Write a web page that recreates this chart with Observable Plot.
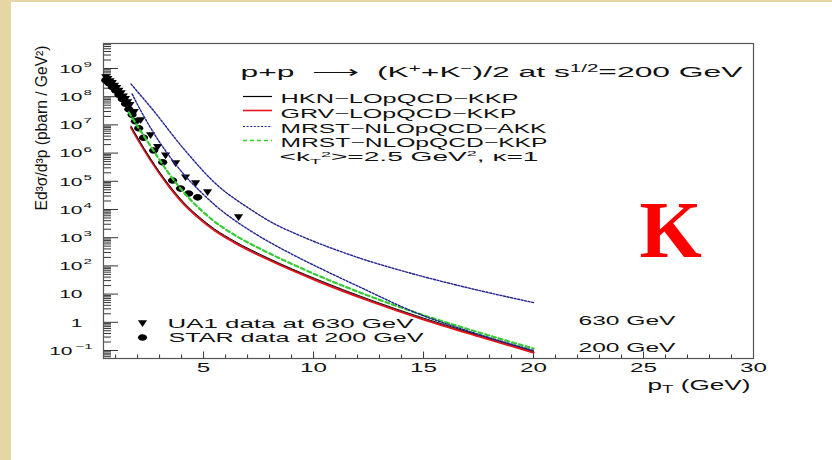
<!DOCTYPE html>
<html><head><meta charset="utf-8">
<script src="https://cdn.jsdelivr.net/npm/d3@7"></script>
<script src="https://cdn.jsdelivr.net/npm/@observablehq/plot@0.6"></script>
<style>
html,body{margin:0;padding:0;background:#e6d6a3;width:832px;height:460px;overflow:hidden}
#wrap{position:absolute;left:11px;top:2px;width:821px;height:458px;background:#fff}
svg text{white-space:pre}
</style></head><body><div id="wrap"></div>
<script>
// ---------------- data ----------------
// theory curves (pT in GeV, E d3sigma/d3p in pbarn/GeV^2)
const ptGRV   = [1.7, 2.0, 2.6, 3.4, 4.1, 4.9, 5.5, 6.4, 7.9, 10.2, 12.5, 15, 17.5, 20];
const grvVals = [8.1e6, 3.16e6, 5.5e5, 7.1e4, 1.58e4, 4.2e3, 1.82e3, 676, 174, 28.8, 5.9, 1.26, 0.32, 0.085];
const hknVals = [9.1e6, 3.55e6, 6.2e5, 7.9e4, 1.78e4, 4.7e3, 2.04e3, 759, 195, 32.4, 6.6, 1.41, 0.355, 0.095];
const ptKKP   = [1.6, 2.0, 2.6, 3.4, 4.1, 4.9, 5.6, 6.4, 7.9, 10.2, 12.5, 15, 17.5, 20];
const kkpVals = [2.8e7, 8.9e6, 1.74e6, 2.0e5, 4.0e4, 9.3e3, 3.24e3, 1.26e3, 302, 45.7, 8.7, 1.78, 0.44, 0.117];
const ptAKK200   = [1.75, 2.0, 2.6, 3.3, 4.1, 4.9, 5.6, 6.4, 7.1, 8.0, 9.0, 10.5, 12.1, 14.7, 17.3, 20];
const akk200Vals = [1.26e8, 5.2e7, 7.6e6, 1.12e6, 1.78e5, 4.0e4, 1.26e4, 4.2e3, 1.82e3, 692, 263, 69, 17.8, 2.1, 0.42, 0.10];
const ptAKK630   = [1.7, 2.6, 4.1, 5.6, 7.1, 8.2, 9.4, 12.0, 14.7, 17.3, 20];
const akk630Vals = [2.8e8, 4.2e7, 1.41e6, 7.6e4, 1.05e4, 3.16e3, 1.17e3, 200, 47.9, 14.8, 5.0];
// data points
const ptUA1   = [0.55,0.65,0.75,0.85,0.95,1.05,1.15,1.25,1.35,1.45,1.55,1.65,1.85,2.14,2.59,2.91,3.27,3.73,4.18,4.64,5.18,6.59];
const ua1Vals = [4.8e8,4.2e8,3.5e8,3.0e8,2.4e8,2.0e8,1.6e8,1.3e8,1.0e8,8.1e7,6.3e7,5.0e7,2.8e7,1.45e7,4.2e6,1.6e6,8.1e5,4.3e5,1.35e5,8.3e4,4.0e4,5.2e3];
const ptSTAR   = [0.55,0.7,0.85,1.0,1.15,1.3,1.45,1.6,1.75,1.9,2.05,2.27,2.73,3.14,3.59,3.95,4.32,4.73];
const starVals = [3.8e8,3.0e8,2.2e8,1.66e8,1.17e8,8.3e7,5.6e7,3.6e7,2.3e7,1.35e7,7.6e6,3.5e6,1.23e6,4.7e5,1.07e5,5.5e4,3.7e4,2.7e4];
// axis tick labels
const xTickValues = [5, 10, 15, 20, 25, 30];
const yTickValues = [0.1, 1, 10, 1e2, 1e3, 1e4, 1e5, 1e6, 1e7, 1e8, 1e9];
const yTickBase   = ["10", "1", "10", "10", "10", "10", "10", "10", "10", "10", "10"];
const yTickSup    = ["−1", "", "", "2", "3", "4", "5", "6", "7", "8", "9"];
// texts
const titleText = "p+p  ⟶  (K+K-)/2 at s1/2=200 GeV";
const legendNames = ["HKN−LOpQCD−KKP", "GRV−LOpQCD−KKP", "MRST−NLOpQCD−AKK", "MRST−NLOpQCD−KKP"];
const legendNote = "<kT2>=2.5 GeV2, κ=1";
const dataLegend = ["UA1 data at 630 GeV", "STAR data at 200 GeV"];
const energyLabels = ["630 GeV", "200 GeV"];
const xTitle = "pT (GeV)";
const yTitle = "Ed³σ/d³p (pbarn / GeV²)";

// ---------------- layout ----------------
const W = 821, H = 458, mL = 92, mT = 41, mR = 79, mB = 102;
const fw = W - mL - mR, fh = H - mT - mB;
const rows = (xs, ys) => xs.map((x, i) => ({pt: x, v: ys[i]}));

const triDown = {draw(ctx, size) { const r = Math.sqrt(size / Math.PI);
  ctx.moveTo(-r, -0.7 * r); ctx.lineTo(r, -0.7 * r); ctx.lineTo(0, 0.75 * r); ctx.closePath(); }};
const ellipse = {draw(ctx, size) { const r = Math.sqrt(size / Math.PI), rx = r, ry = 0.72 * r, k = 0.5523;
  ctx.moveTo(rx, 0); ctx.bezierCurveTo(rx, ry * k, rx * k, ry, 0, ry);
  ctx.bezierCurveTo(-rx * k, ry, -rx, ry * k, -rx, 0);
  ctx.bezierCurveTo(-rx, -ry * k, -rx * k, -ry, 0, -ry);
  ctx.bezierCurveTo(rx * k, -ry, rx, -ry * k, rx, 0); ctx.closePath(); }};

const xMinor = d3.range(1, 30).filter(v => v % 5 !== 0);
const yMinor = [];
for (let e = -2; e <= 9; e++) for (let m = 2; m <= 9; m++) { const v = m * Math.pow(10, e); if (v > 0.052 && v < 7.7e9) yMinor.push(v); }

const label = (txt, o) => Plot.text([txt], {x: null, y: null, text: d => d, frameAnchor: "top-left",
  textAnchor: "start", lineAnchor: "middle", fill: "#111", ...o});

const idx = d3.range(yTickValues.length);
const centerY = (mT + H - mB) / 2 + 2; // page coords of frame middle
const legLine = (pageY, o) => Plot.ruleY([0], {y: null, dy: pageY - centerY, insetLeft: 140, insetRight: 481, ...o});

const chart = Plot.plot({
  width: W, height: H, marginLeft: mL, marginRight: mR, marginTop: mT, marginBottom: mB,
  style: {fontFamily: "Liberation Sans, Arial, sans-serif", background: "white", overflow: "visible"},
  x: {domain: [0.45, 30], axis: null},
  y: {type: "log", domain: [0.052, 7.7e9], axis: null},
  marks: [
    // ticks (inside the frame)
    Plot.ruleX(xMinor, {x: d => d, insetTop: fh - 3.5, stroke: "#333"}),
    Plot.ruleX(xTickValues, {x: d => d, insetTop: fh - 6.5, stroke: "#333"}),
    Plot.ruleY(yMinor, {y: d => d, insetRight: fw - 8, stroke: "#333"}),
    Plot.ruleY(yTickValues, {y: d => d, insetRight: fw - 15, stroke: "#333"}),
    Plot.frame({stroke: "#555", strokeWidth: 1.2}),
    // data points
    Plot.dot(rows(ptSTAR, starVals), {x: "pt", y: "v", symbol: ellipse, r: 4.6, fill: "#000", stroke: null}),
    Plot.dot(rows(ptUA1, ua1Vals), {x: "pt", y: "v", symbol: triDown, r: 4.6, fill: "#000", stroke: null}),
    // theory curves
    Plot.line(rows(ptKKP, kkpVals), {x: "pt", y: "v", stroke: "#33cc33", strokeWidth: 2.2, strokeDasharray: "4 3", curve: "monotone-x"}),
    Plot.line(rows(ptGRV, grvVals), {x: "pt", y: "v", stroke: "#e3141e", strokeWidth: 2.2, curve: "monotone-x"}),
    Plot.line(rows(ptGRV, hknVals), {x: "pt", y: "v", stroke: "#111", strokeWidth: 1, curve: "monotone-x"}),
    Plot.line(rows(ptAKK200, akk200Vals), {x: "pt", y: "v", stroke: "#22228c", strokeWidth: 1.4, strokeDasharray: "2 1.6", curve: "monotone-x"}),
    Plot.line(rows(ptAKK630, akk630Vals), {x: "pt", y: "v", stroke: "#22228c", strokeWidth: 1.4, strokeDasharray: "2 1.6", curve: "monotone-x"}),
    // axis tick labels
    Plot.text(xTickValues, {x: d => d, text: d => String(d), frameAnchor: "bottom", lineAnchor: "middle", dy: 9, fontSize: 13, fill: "#111", ariaDescription: "xtick"}),
    Plot.text(idx.filter(i => yTickSup[i] !== "−1"), {y: i => yTickValues[i], text: i => yTickBase[i], frameAnchor: "left", lineAnchor: "middle", dx: -21, dy: 1, textAnchor: "end", fontSize: 10.5, fill: "#111", ariaDescription: "ytick"}),
    Plot.text(idx.filter(i => yTickSup[i] === "−1"), {y: i => yTickValues[i], text: i => yTickBase[i], frameAnchor: "left", lineAnchor: "middle", dx: -31, dy: 1, textAnchor: "end", fontSize: 10.5, fill: "#111", ariaDescription: "ytick"}),
    Plot.text(idx.filter(i => yTickSup[i] && yTickSup[i] !== "−1"), {y: i => yTickValues[i], text: i => yTickSup[i], frameAnchor: "left", lineAnchor: "middle", dx: -20, dy: -4, textAnchor: "start", fontSize: 7.5, fill: "#111", ariaDescription: "ysup"}),
    Plot.text(idx.filter(i => yTickSup[i] === "−1"), {y: i => yTickValues[i], text: i => yTickSup[i], frameAnchor: "left", lineAnchor: "middle", dx: -28, dy: -4, textAnchor: "start", fontSize: 7.5, fill: "#111", ariaDescription: "ysup"}),
    // axis titles
    label(xTitle, {dx: 544, dy: 342, fontSize: 14, ariaDescription: "xlabel"}),
    label(yTitle, {dx: -61.5, dy: 84.5, fontSize: 16, rotate: -90, textAnchor: "middle", ariaDescription: "ylabel"}),
    // title and legend
    label(titleText, {dx: 137, dy: 29, fontSize: 15.5, ariaDescription: "title"}),
    legLine(96, {stroke: "#000", strokeWidth: 1.2}),
    legLine(110, {stroke: "#e3141e", strokeWidth: 1.6}),
    legLine(126, {stroke: "#22228c", strokeWidth: 1.2, strokeDasharray: "2 1.6"}),
    legLine(140, {stroke: "#33cc33", strokeWidth: 1.6, strokeDasharray: "4 3"}),
    label(legendNames[0], {dx: 177, dy: 55.5, fontSize: 12.5, ariaDescription: "leg1"}),
    label(legendNames[1], {dx: 177, dy: 70, fontSize: 12.5, ariaDescription: "leg2"}),
    label(legendNames[2], {dx: 177, dy: 85, fontSize: 12.5, ariaDescription: "leg3"}),
    label(legendNames[3], {dx: 177, dy: 99, fontSize: 12.5, ariaDescription: "leg4"}),
    label(legendNote, {dx: 176, dy: 113, fontSize: 12.5, ariaDescription: "leg5"}),
    // data legend
    Plot.dot([0], {x: null, y: null, frameAnchor: "top-left", dx: 39, dy: 280, symbol: triDown, r: 4.6, fill: "#000", stroke: null}),
    Plot.dot([0], {x: null, y: null, frameAnchor: "top-left", dx: 39, dy: 294, symbol: ellipse, r: 4.6, fill: "#000", stroke: null}),
    label(dataLegend[0], {dx: 64, dy: 280, fontSize: 13.5, ariaDescription: "ua1"}),
    label(dataLegend[1], {dx: 65, dy: 294, fontSize: 13.5, ariaDescription: "star"}),
    label(energyLabels[0], {dx: 475, dy: 277, fontSize: 13.5, ariaDescription: "e630"}),
    label(energyLabels[1], {dx: 475, dy: 304, fontSize: 13.5, ariaDescription: "e200"}),
    // slide overlay letter
    label("K", {dx: 536, dy: 188, fontSize: 80, fontFamily: "Liberation Serif, Times New Roman, serif", fontWeight: "bold", fill: "#ff0000"})
  ]
});
document.getElementById("wrap").append(chart);

// rich text (sub/superscripts) and the horizontally stretched ROOT lettering
const rich = {
  title: 'p+p  ⟶  (K<tspan dy="-5" font-size="10">+</tspan><tspan dy="5">+K</tspan><tspan dy="-5" font-size="10">−</tspan><tspan dy="5">)/2 at s</tspan><tspan dy="-5" font-size="10">1/2</tspan><tspan dy="5">=200 GeV</tspan>',
  leg5: '&lt;k<tspan dy="3" font-size="8">T</tspan><tspan dy="-7" font-size="8">2</tspan><tspan dy="4">&gt;=2.5 GeV</tspan><tspan dy="-5" font-size="8">2</tspan><tspan dy="5">, κ=1</tspan>',
  xlabel: 'p<tspan dy="3" font-size="10">T</tspan><tspan dy="-3"> (GeV)</tspan>'
};
const stretch = {
  title: {w: 502}, leg1: {w: 238}, leg2: {w: 236}, leg3: {w: 266}, leg4: {w: 267}, leg5: {w: 259},
  ua1: {w: 246}, star: {w: 255}, e630: {w: 97}, e200: {w: 97}, xlabel: {w: 103}, ylabel: {w: 165},
  xtick: {k: 1.86}, ytick: {k: 2}, ysup: {k: 2}
};
for (const [g, html] of Object.entries(rich))
  chart.querySelectorAll(`g[aria-description="${g}"] text`).forEach(t => { t.innerHTML = html; });
for (const [g, s] of Object.entries(stretch))
  chart.querySelectorAll(`g[aria-description="${g}"] text`).forEach(t => {
    const n = t.getComputedTextLength();
    t.setAttribute("textLength", s.w ?? n * s.k);
    t.setAttribute("lengthAdjust", "spacingAndGlyphs");
  });
</script></body></html>
